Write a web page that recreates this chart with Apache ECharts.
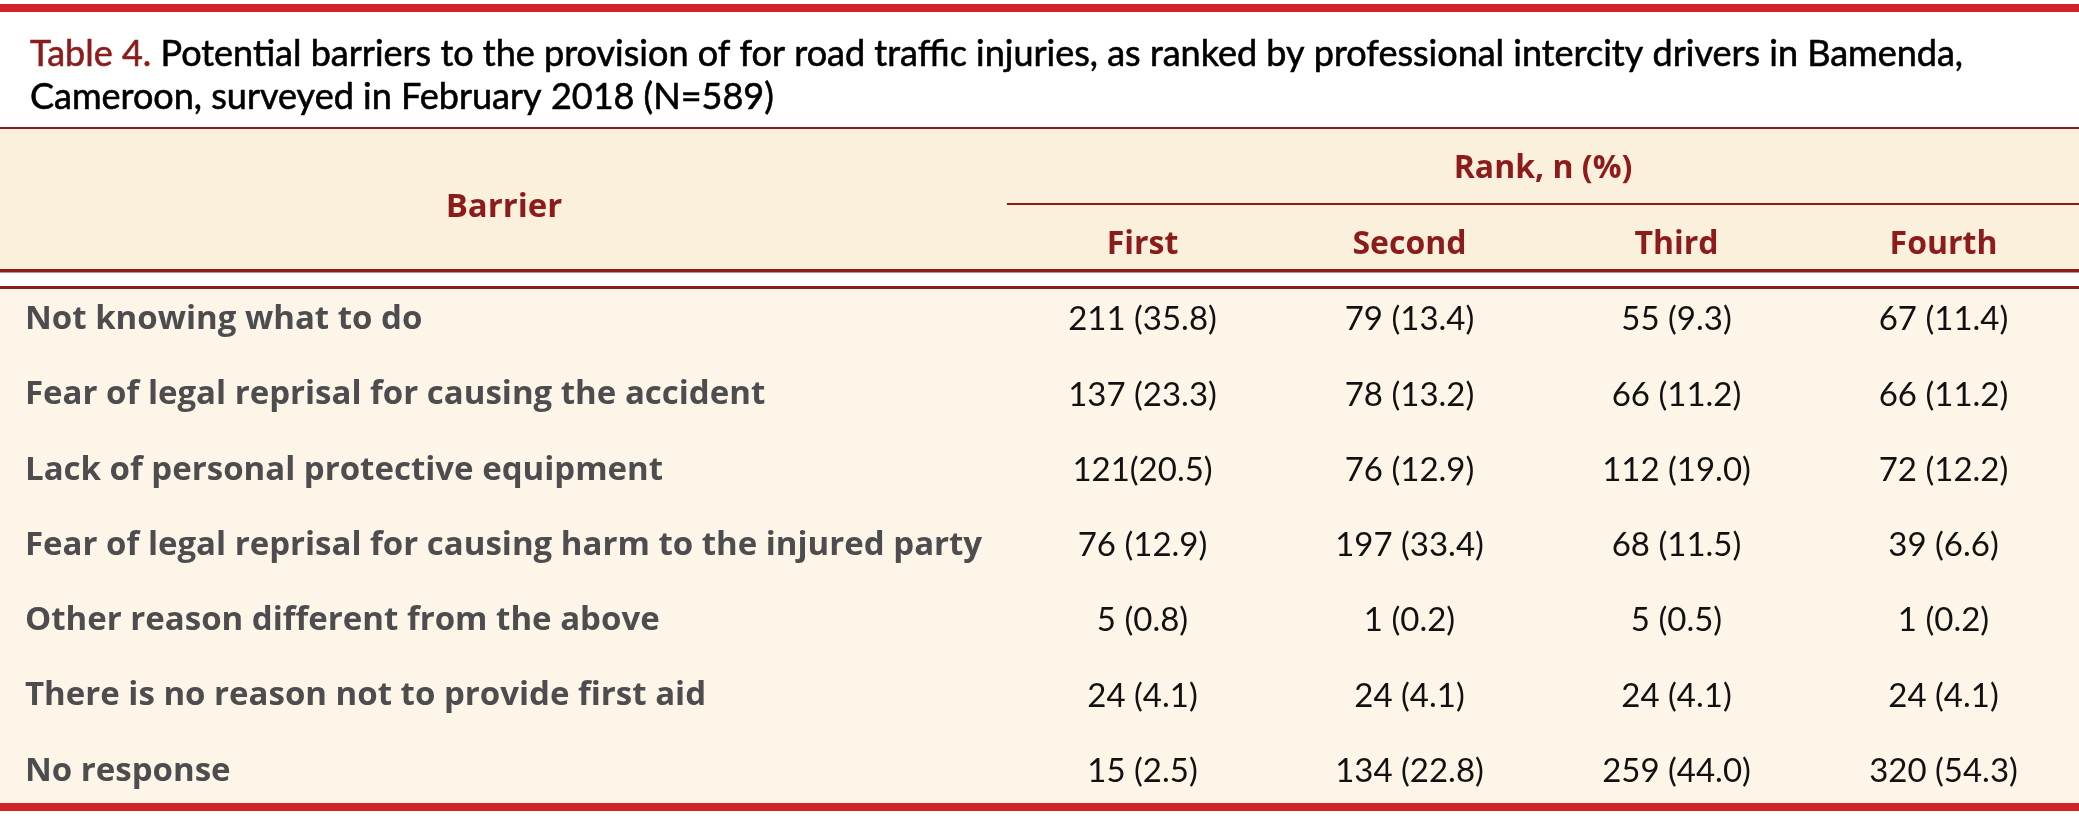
<!DOCTYPE html>
<html lang="en">
<head>
	<meta charset="UTF-8">
	<title>Table 4 - barriers to first aid</title>
	<script src="https://cdn.jsdelivr.net/npm/echarts@6/dist/echarts.min.js"></script>
	<style>
		html, body { margin: 0; padding: 0; background: #fff; }
		#t { width: 2079px; height: 825px; }
	</style>
</head>
<body>
<div id="t"></div>
<script>
	// table contents
	var barriers = [
		'Not knowing what to do',
		'Fear of legal reprisal for causing the accident',
		'Lack of personal protective equipment',
		'Fear of legal reprisal for causing harm to the injured party',
		'Other reason different from the above',
		'There is no reason not to provide first aid',
		'No response'
	];
	var ranks = ['First', 'Second', 'Third', 'Fourth'];
	var rankFirst  = ['211 (35.8)', '137 (23.3)', '121(20.5)', '76 (12.9)', '5 (0.8)', '24 (4.1)', '15 (2.5)'];
	var rankSecond = ['79 (13.4)', '78 (13.2)', '76 (12.9)', '197 (33.4)', '1 (0.2)', '24 (4.1)', '134 (22.8)'];
	var rankThird  = ['55 (9.3)', '66 (11.2)', '112 (19.0)', '68 (11.5)', '5 (0.5)', '24 (4.1)', '259 (44.0)'];
	var rankFourth = ['67 (11.4)', '66 (11.2)', '72 (12.2)', '39 (6.6)', '1 (0.2)', '24 (4.1)', '320 (54.3)'];

	var titleLead = 'Table 4.';
	var titleLine1 = 'Potential barriers to the provision of for road traffic injuries, as ranked by professional intercity drivers in Bamenda,';
	var titleLine2 = 'Cameroon, surveyed in February 2018 (N=589)';

	var FONT = 'Lato, "Open Sans", sans-serif';
	var BOLD = '"Open Sans", Lato, sans-serif';
	var RED = '#d2232a', DARK = '#8b1c1b';

	// cells: [column, row, text]
	var cols = [rankFirst, rankSecond, rankThird, rankFourth];
	var cells = [];
	for (let j = 0; j < cols.length; j++) {
		for (let i = 0; i < cols[j].length; i++) {
			cells.push([j, i, cols[j][i]]);
		}
	}

	function bar(y, h, fill, x, w) {
		return { type: 'rect', z: -10, shape: { x: x || 0, y: y, width: w || 2079, height: h }, style: { fill: fill } };
	}

	var chart = echarts.init(document.getElementById('t'));
	chart.setOption({
		animation: false,
		backgroundColor: '#fff',
		title: {
			left: 25, top: 28,
			text: '{a|' + titleLead + '} ' + titleLine1 + '\n' + titleLine2,
			textStyle: {
				fontFamily: FONT, fontSize: 36, fontWeight: 'normal', color: '#000', lineHeight: 43,
				textBorderColor: '#000', textBorderWidth: 0.6,
				rich: { a: { fontFamily: FONT, fontSize: 36, color: DARK, lineHeight: 43, textBorderColor: DARK, textBorderWidth: 0.6 } }
			}
		},
		graphic: [
			bar(4, 8, RED),
			bar(128, 142, '#fbf0db'),
			bar(127, 2, DARK),
			bar(203, 2, DARK, 1007, 1072),
			bar(269, 3.5, DARK),
			bar(286, 3, DARK),
			bar(289, 514, '#fdf5e7'),
			bar(803, 8, RED),
			{
				type: 'text', z: 5, x: 504, y: 208,
				style: { text: 'Barrier', fontFamily: BOLD, fontSize: 33, fontWeight: 'bold', fill: DARK, align: 'center', verticalAlign: 'middle' }
			}
		],
		grid: { left: 1009, right: 2, top: 282, height: 527 },
		xAxis: {
			type: 'category', position: 'top', data: ranks,
			axisLine: { show: false }, axisTick: { show: false }, splitLine: { show: false },
			axisLabel: { margin: 37, verticalAlign: 'middle', fontFamily: BOLD, fontSize: 32, fontWeight: 'bold', color: DARK },
			name: 'Rank, n (%)', nameLocation: 'middle', nameGap: 113,
			nameTextStyle: { verticalAlign: 'middle', fontFamily: BOLD, fontSize: 32, fontWeight: 'bold', color: DARK }
		},
		yAxis: {
			type: 'category', inverse: true, data: barriers,
			axisLine: { show: false }, axisTick: { show: false }, splitLine: { show: false },
			axisLabel: { align: 'left', margin: 984, padding: [4, 0, 0, 0], fontFamily: BOLD, fontSize: 33, fontWeight: 'bold', color: '#4d4d4f' }
		},
		series: [{
			type: 'custom',
			data: cells,
			renderItem: function (params, api) {
				var p = api.coord([api.value(0), api.value(1)]);
				return {
					type: 'text', x: p[0], y: p[1],
					style: { text: cells[params.dataIndex][2], fontFamily: FONT, fontSize: 33, fill: '#111', align: 'center', verticalAlign: 'middle' }
				};
			}
		}]
	});
</script>
</body>
</html>
